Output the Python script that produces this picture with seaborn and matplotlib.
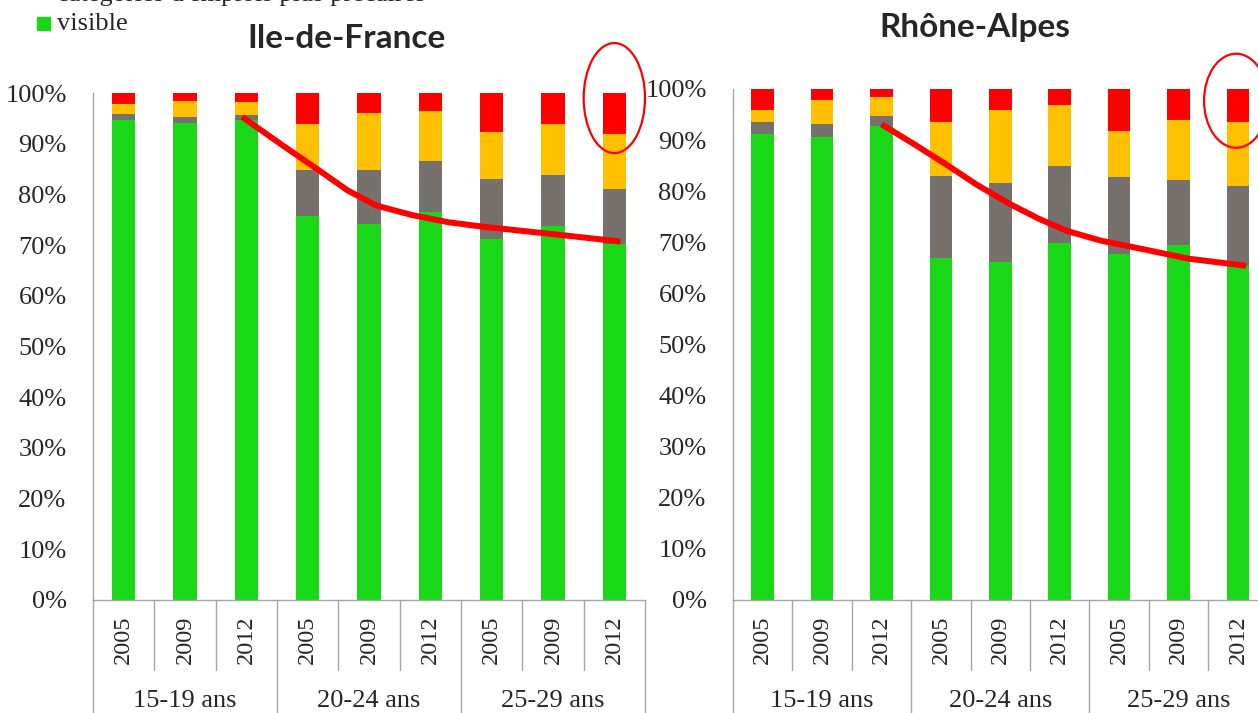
import matplotlib
matplotlib.use("Agg")
import numpy as np
import pandas as pd
import matplotlib.pyplot as plt
import seaborn as sns
from matplotlib.patches import Ellipse, Rectangle

# categories
years = ["2005", "2009", "2012"]
groups = ["15-19 ans", "20-24 ans", "25-29 ans"]
regions = ["Ile-de-France", "Rhône-Alpes"]

# shares (%) per bar, order: 15-19 (2005, 2009, 2012), 20-24 (...), 25-29 (...)
idf_green = [94.6, 94.0, 94.7, 75.8, 74.2, 76.6, 71.3, 73.8, 70.3]
idf_gray = [1.2, 1.3, 1.0, 9.0, 10.6, 9.9, 11.7, 10.0, 10.7]
idf_yellow = [2.0, 3.1, 2.5, 9.0, 11.3, 10.0, 9.4, 10.1, 11.0]
idf_red = [2.2, 1.6, 1.8, 6.2, 3.9, 3.5, 7.6, 6.1, 8.0]

ra_green = [91.1, 90.6, 92.8, 66.9, 66.1, 69.8, 67.7, 69.4, 65.4]
ra_gray = [2.5, 2.5, 1.9, 16.0, 15.5, 15.2, 15.1, 12.8, 15.7]
ra_yellow = [2.2, 4.7, 3.8, 10.6, 14.2, 11.8, 8.9, 11.8, 12.4]
ra_red = [4.2, 2.2, 1.5, 6.5, 4.2, 3.2, 8.3, 6.0, 6.5]

# hand-drawn trend lines (bar index, %)
idf_trend_x = [1.93, 2.6, 3.19, 3.65, 4.12, 4.71, 5.3, 5.88, 7.05, 8.1]
idf_trend_y = [95.3, 89.6, 84.7, 80.8, 77.8, 75.9, 74.5, 73.6, 72.1, 70.7]
ra_trend_x = [2.0, 2.55, 3.08, 3.6, 4.16, 4.65, 5.13, 5.7, 6.26, 7.17, 8.14]
ra_trend_y = [93.1, 89.2, 85.3, 81.3, 77.5, 74.6, 72.2, 70.3, 69.0, 66.8, 65.4]

# circled bar (center x, center y, width, height)
idf_circle = [8.0, 99.0, 1.0, 21.7]
ra_circle = [7.97, 97.7, 1.08, 18.4]

GREEN, GRAY, YELLOW, RED = "#18d818", "#77716e", "#ffc000", "#ff0000"
AXCOL = "#a6a6a6"

sns.set_style("white")
plt.rcParams["font.family"] = ["Liberation Serif", "DejaVu Serif"]

fig = plt.figure(figsize=(12.58, 7.13), dpi=100)
ax_l = fig.add_axes([93 / 1258, 1 - 600 / 713, 552 / 1258, 507 / 713])
ax_r = fig.add_axes([733 / 1258, 1 - 600 / 713, 534.6 / 1258, 511 / 713])


def draw_panel(ax, green, gray, yellow, red, tx, ty, circ):
    df = pd.DataFrame({"slot": range(9), "green": green, "gray": gray,
                       "yellow": yellow, "red": red})
    df["c_gray"] = df["green"] + df["gray"]
    df["c_yellow"] = df["c_gray"] + df["yellow"]
    df["c_red"] = df["c_yellow"] + df["red"]
    # tallest first so shorter layers sit on top
    for col, c in [("c_red", RED), ("c_yellow", YELLOW), ("c_gray", GRAY), ("green", GREEN)]:
        sns.barplot(data=df, x="slot", y=col, color=c, saturation=1, width=0.38,
                    linewidth=0, errorbar=None, ax=ax)
    ax.set_xlim(-0.5, 8.5)
    ax.set_ylim(0, 100)
    ax.set_yticks(range(0, 101, 10))
    ax.set_yticklabels([f"{v}%" for v in range(0, 101, 10)], fontsize=19)
    ax.set_xticks(range(9))
    ax.set_xticklabels(years * 3, rotation=90, fontsize=17.5)
    ax.tick_params(axis="y", length=7, width=1, color=AXCOL, pad=12)
    ax.tick_params(axis="x", length=0, pad=11)
    ax.set_xlabel("")
    ax.set_ylabel("")
    for s in ["top", "right"]:
        ax.spines[s].set_visible(False)
    for s in ["left", "bottom"]:
        ax.spines[s].set_color(AXCOL)
        ax.spines[s].set_linewidth(1)

    trans = ax.get_xaxis_transform()
    h = ax.get_position().height * 713
    for i in range(1, 9):
        depth = 1.0 if i % 3 == 0 else 70 / h
        ax.plot([i - 0.5, i - 0.5], [0, -depth], color=AXCOL, lw=1,
                transform=trans, clip_on=False)
    ax.plot([-0.5, -0.5], [0, -1.0], color=AXCOL, lw=1, transform=trans, clip_on=False)
    ax.plot([8.5, 8.5], [0, -1.0], color=AXCOL, lw=1, transform=trans, clip_on=False)
    for k, g in enumerate(groups):
        ax.text(3 * k + 1, -101 / h, g, transform=trans, ha="center", va="center",
                fontsize=19)

    ax.plot(tx, ty, color=RED, lw=4.3, solid_capstyle="butt",
            solid_joinstyle="round", zorder=5)
    ax.add_patch(Ellipse((circ[0], circ[1]), circ[2], circ[3], fill=False,
                         edgecolor=RED, lw=1.6, clip_on=False, zorder=6))


draw_panel(ax_l, idf_green, idf_gray, idf_yellow, idf_red, idf_trend_x, idf_trend_y, idf_circle)
draw_panel(ax_r, ra_green, ra_gray, ra_yellow, ra_red, ra_trend_x, ra_trend_y, ra_circle)

fig.text(346 / 1258, 1 - 38 / 713, regions[0], ha="center", va="center",
         fontsize=24, fontweight="bold", family=["Lato", "DejaVu Sans"])
fig.text(975 / 1258, 1 - 27 / 713, regions[1], ha="center", va="center",
         fontsize=24, fontweight="bold", family=["Lato", "DejaVu Sans"])

# legend fragment (the upper line is cut at the top edge, as in the source)
fig.patches.append(Rectangle((37 / 1258, 1 - 30 / 713), 13 / 1258, 13 / 713,
                             transform=fig.transFigure, color=GREEN))
fig.text(57 / 1258, 1 - 24 / 713, "visible", ha="left", va="center", fontsize=19)
fig.text(57 / 1258, 1 - 1 / 713, "catégories d'emplois plus précaires", ha="left",
         va="baseline", fontsize=19)

fig.savefig("out.png", dpi=100)
